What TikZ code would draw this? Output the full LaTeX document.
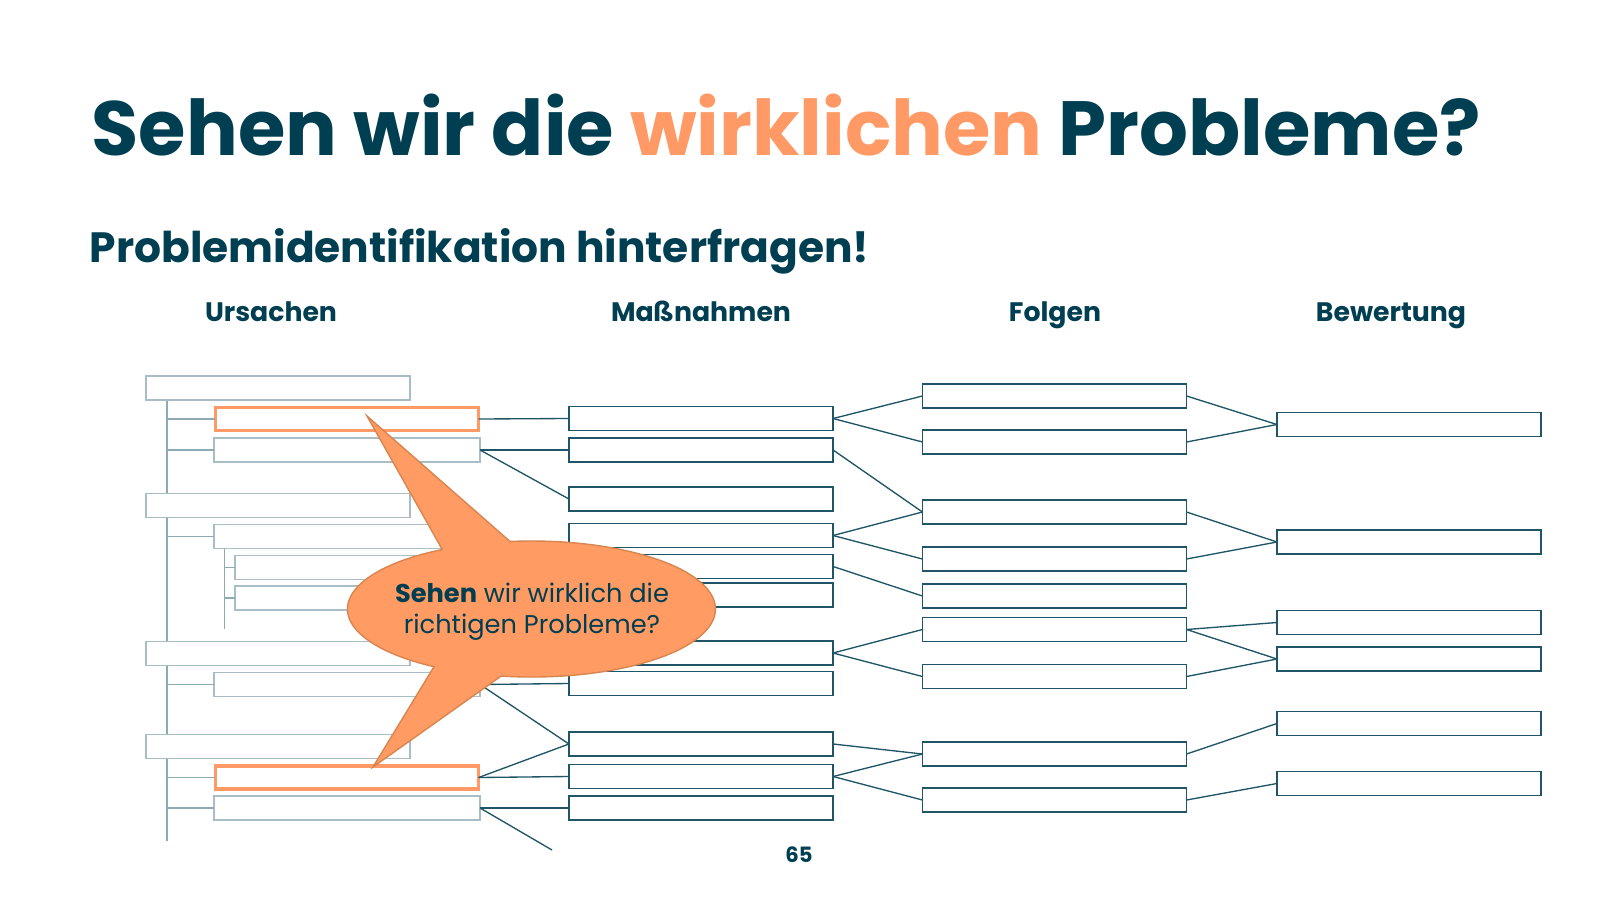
\documentclass[tikz,border=0pt]{standalone}
\usepackage{fontspec}
\setmainfont{Poppins}
\usetikzlibrary{backgrounds}
\definecolor{ink}{HTML}{003E51}
\definecolor{accent}{HTML}{FF9966}
\definecolor{bubblefill}{HTML}{FF9B63}
\definecolor{bubbleline}{HTML}{D9854F}
\definecolor{boxline}{HTML}{1F5566}
\definecolor{paleline}{HTML}{A7BEC6}
\definecolor{treeline}{HTML}{8EAAB4}
\tikzset{
  mbox/.style={draw=boxline, line width=0.4pt, fill=white, minimum width=2.64cm,
    minimum height=0.24cm, inner sep=0pt, outer sep=0pt},
  ubox/.style={mbox, draw=paleline},
  obox/.style={mbox, draw=accent, line width=0.95pt, minimum width=2.63cm, minimum height=0.23cm},
  link/.style={draw=boxline, line width=0.38pt},
  twig/.style={draw=treeline, line width=0.4pt},
  heading/.style={font=\fontsize{7.6}{9}\selectfont\bfseries, text=ink, anchor=base, inner sep=0pt},
}
\begin{document}
\begin{tikzpicture}[x=0.01cm, y=-0.01cm]
  \useasboundingbox (0,0) rectangle (1600,900);
  \node[anchor=base west, inner sep=0pt, text=ink,
    font=\fontsize{21.85}{26}\selectfont\bfseries] (title) at (91,155)
    {Sehen wir die \textcolor{accent}{wirklichen} Probleme?};
  \node[anchor=base west, inner sep=0pt, text=ink,
    font=\fontsize{12.05}{15}\selectfont\bfseries] (subtitle) at (89,262)
    {Problemidentifikation hinterfragen!};
  \node[heading] (hu) at (271,321) {Ursachen};
  \node[heading] (hm) at (701,321) {Maßnahmen};
  \node[heading] (hf) at (1055,321) {Folgen};
  \node[heading] (hb) at (1391,321) {Bewertung};

  % Ursachen
  \foreach \y [count=\i] in {388,505.5,653.5,746.5}
    \node[ubox] (t\i) at (278,\y) {};
  \node[obox] (c1) at (347,419) {};
  \node[ubox, minimum width=2.66cm] (c2) at (347,450) {};
  \node[ubox, minimum width=2.66cm] (c3) at (347,536.5) {};
  \node[ubox, minimum width=2.66cm] (c4) at (347,684.5) {};
  \node[obox] (c5) at (347,777.5) {};
  \node[ubox, minimum width=2.66cm] (c6) at (347,808) {};
  \node[ubox, minimum width=2.45cm] (g1) at (357.5,567.5) {};
  \node[ubox, minimum width=2.45cm] (g2) at (357.5,598) {};
  \coordinate (trunk) at (167,841);
  \coordinate (gtrunk) at (224.5,629);
  \foreach \n in {c1,c2,c3,c4,c5,c6}
    \draw[twig] (\n.west -| trunk) -- (\n.west);
  \foreach \n in {g1,g2}
    \draw[twig] (\n.west -| gtrunk) -- (\n.west);

  % Massnahmen, Folgen, Bewertung
  \foreach \y [count=\i] in {418.5,450,499,535.5,566.5,595,653,683.5,744,776.5,808}
    \node[mbox] (m\i) at (701,\y) {};
  \foreach \y [count=\i] in {396,442,512,559,596,629.5,676.5,754,800}
    \node[mbox] (f\i) at (1054.5,\y) {};
  \foreach \y [count=\i] in {424.5,542,622.5,659,723.5,783.5}
    \node[mbox] (b\i) at (1409,\y) {};

  \foreach \a/\b in {c1/m1,c2/m2,c2/m3,c4/m8,c4/m9,c5/m9,c5/m10,c6/m11,
      m1/f1,m1/f2,m2/f3,m4/f3,m4/f4,m5/f5,m7/f6,m7/f7,m9/f8,m10/f8,m10/f9,
      f1/b1,f2/b1,f3/b2,f4/b2,f6/b3,f6/b4,f7/b4,f8/b5,f9/b6}
    \draw[link] (\a.east) -- (\b.west);
  \coordinate (loose) at (552,850);
  \draw[link] (c6.east) -- (loose);

  \begin{scope}[on background layer]
    \fill[white] (0,0) rectangle (1600,900);
    \draw[twig] (t1.south -| trunk) -- (trunk);
    \draw[twig] (c3.south -| gtrunk) -- (gtrunk);
  \end{scope}

  % speech bubble
  \draw[fill=bubblefill, draw=bubbleline, line width=0.4pt]
    ({531.5+184*cos(263.3)},{609+68*sin(263.3)}) -- (367,416)
    -- ({531.5+184*cos(241)},{609+68*sin(241)})
    arc[start angle=241, end angle=122, x radius=184, y radius=68]
    -- (373,767) -- ({531.5+184*cos(99.5)},{609+68*sin(99.5)})
    arc[start angle=99.5, end angle=-96.7, x radius=184, y radius=68] -- cycle;
  \node[align=center, text=ink, inner sep=0pt, font=\fontsize{7.3}{8.8}\selectfont]
    (bubble) at (532,612) {\textbf{Sehen} wir wirklich die\\richtigen Probleme?};

  \node[font=\fontsize{6}{7}\selectfont\bfseries, text=ink, inner sep=0pt] (pagenum) at (799,855) {65};
\end{tikzpicture}
\end{document}
